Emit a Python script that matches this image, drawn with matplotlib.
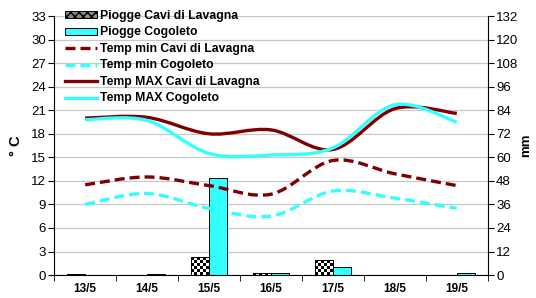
import numpy as np
import matplotlib
matplotlib.use("Agg")
import matplotlib.pyplot as plt
from matplotlib.path import Path
from matplotlib.patches import PathPatch
from matplotlib.lines import Line2D
from matplotlib.patches import Patch

plt.rcParams['font.family'] = ['Liberation Sans', 'DejaVu Sans']

# data
days = ['13/5', '14/5', '15/5', '16/5', '17/5', '18/5', '19/5']
rain_cavi = [0.3, 0, 9.0, 0.8, 7.6, 0, 0]          # mm
rain_cogoleto = [0, 0.3, 49.6, 0.8, 3.9, 0, 0.8]  # mm
tmin_cavi = [11.5, 12.5, 11.4, 10.3, 14.6, 12.9, 11.4]
tmin_cogoleto = [9.0, 10.4, 8.5, 7.5, 10.7, 9.8, 8.5]
tmax_cavi = [20.0, 20.1, 18.0, 18.5, 16.0, 21.2, 20.6]
tmax_cogoleto = [19.8, 19.7, 15.5, 15.3, 16.2, 21.7, 19.5]

DARK = '#7f0000'
CYAN = '#33ffff'


def smooth_path(x, y):
    # excel-like smoothed line (catmull-rom as cubic bezier)
    pts = np.column_stack([x, y]).astype(float)
    n = len(pts)
    verts = [pts[0]]
    codes = [Path.MOVETO]
    for i in range(n - 1):
        p0 = pts[i - 1] if i > 0 else pts[i]
        p1 = pts[i]
        p2 = pts[i + 1]
        p3 = pts[i + 2] if i + 2 < n else pts[i + 1]
        c1 = p1 + (p2 - p0) / 6
        c2 = p2 - (p3 - p1) / 6
        verts += [c1, c2, p2]
        codes += [Path.CURVE4] * 3
    return Path(verts, codes)


fig = plt.figure(figsize=(5.36, 2.98), dpi=100)
ax = fig.add_axes([0.101, 0.077, 0.809, 0.869])
ax2 = ax.twinx()
ax.set_zorder(ax2.get_zorder() + 1)
ax.patch.set_visible(False)

x = np.arange(len(days))
w = 0.29

# rain bars on right axis
ax2.set_ylim(0, 132)
ax2.set_yticks(np.arange(0, 133, 12))
ax2.yaxis.grid(True, color='#c8c8c8', lw=0.9)
ax2.set_axisbelow(True)
bars_cavi = ax2.bar(x - w / 2, rain_cavi, w, color='white', edgecolor='black', lw=0.7, zorder=2)
ax2.bar(x + w / 2, rain_cogoleto, w, color=CYAN, edgecolor='black', lw=0.7, zorder=2)

# checkered fill for Cavi bars
fig.canvas.draw()
for b in bars_cavi:
    h = b.get_height()
    if h <= 0:
        continue
    x0 = b.get_x()
    px_h = ax2.transData.transform((0, h))[1] - ax2.transData.transform((0, 0))[1]
    rows = max(1, int(round(px_h / 3)))
    cols = 6
    board = (np.indices((rows, cols)).sum(axis=0) % 2).astype(float)
    ax2.imshow(board, cmap='gray', extent=(x0, x0 + w, 0, h), aspect='auto',
               interpolation='nearest', zorder=2.5, vmin=0, vmax=1)
    ax2.add_patch(plt.Rectangle((x0, 0), w, h, fill=False, ec='black', lw=0.7, zorder=3))

# temperature lines on left axis
series = [
    (tmin_cavi, DARK, (3.0, 1.5)),
    (tmin_cogoleto, CYAN, (3.0, 1.5)),
    (tmax_cavi, DARK, None),
    (tmax_cogoleto, CYAN, None),
]
for vals, col, dash in series:
    p = PathPatch(smooth_path(x, vals), fill=False, ec=col, lw=2.4, capstyle='butt')
    if dash:
        p.set_linestyle((0, dash))
    ax.add_patch(p)

ax.set_xlim(-0.5, len(days) - 0.5)
ax.set_ylim(0, 33)
ax.set_yticks(np.arange(0, 34, 3))
ax2.set_xlim(-0.5, len(days) - 0.5)

ax.set_xticks(x)
ax.set_xticklabels(days, fontweight='bold', fontsize=8.5)
ax.set_xticks(np.arange(-0.5, len(days), 1), minor=True)
ax.tick_params(axis='x', which='major', length=0, pad=6)
ax.tick_params(axis='x', which='minor', length=4, direction='out')
ax.tick_params(axis='y', labelsize=9.5, length=4, direction='out', pad=2)
ax2.tick_params(axis='y', labelsize=9.5, length=4, direction='out', pad=2)

for a in (ax, ax2):
    a.spines['top'].set_visible(False)
ax.spines['right'].set_visible(False)
ax2.spines['left'].set_visible(False)
ax2.spines['bottom'].set_visible(False)

ax.set_ylabel('° C', fontsize=10.5, fontweight='bold', labelpad=6)
ax2.set_ylabel('mm', fontsize=9.5, fontweight='bold', labelpad=1)

handles = [
    Patch(facecolor='#888888', edgecolor='black', hatch='xxxx', lw=0.7),
    Patch(facecolor=CYAN, edgecolor='black', lw=0.7),
    Line2D([], [], color=DARK, lw=2.4, ls=(0, (3, 1.5))),
    Line2D([], [], color=CYAN, lw=2.4, ls=(0, (3, 1.5))),
    Line2D([], [], color=DARK, lw=2.4),
    Line2D([], [], color=CYAN, lw=2.4),
]
labels = ['Piogge Cavi di Lavagna', 'Piogge Cogoleto', 'Temp min Cavi di Lavagna',
          'Temp min Cogoleto', 'Temp MAX Cavi di Lavagna', 'Temp MAX Cogoleto']
leg = ax.legend(handles, labels, loc='upper left', bbox_to_anchor=(0.025, 1.024),
                frameon=False, prop={'weight': 'bold', 'size': 8.8},
                handlelength=2.6, handleheight=0.5, handletextpad=0.3,
                labelspacing=0.37, borderpad=0, borderaxespad=0)

fig.savefig('out.png', dpi=100)
